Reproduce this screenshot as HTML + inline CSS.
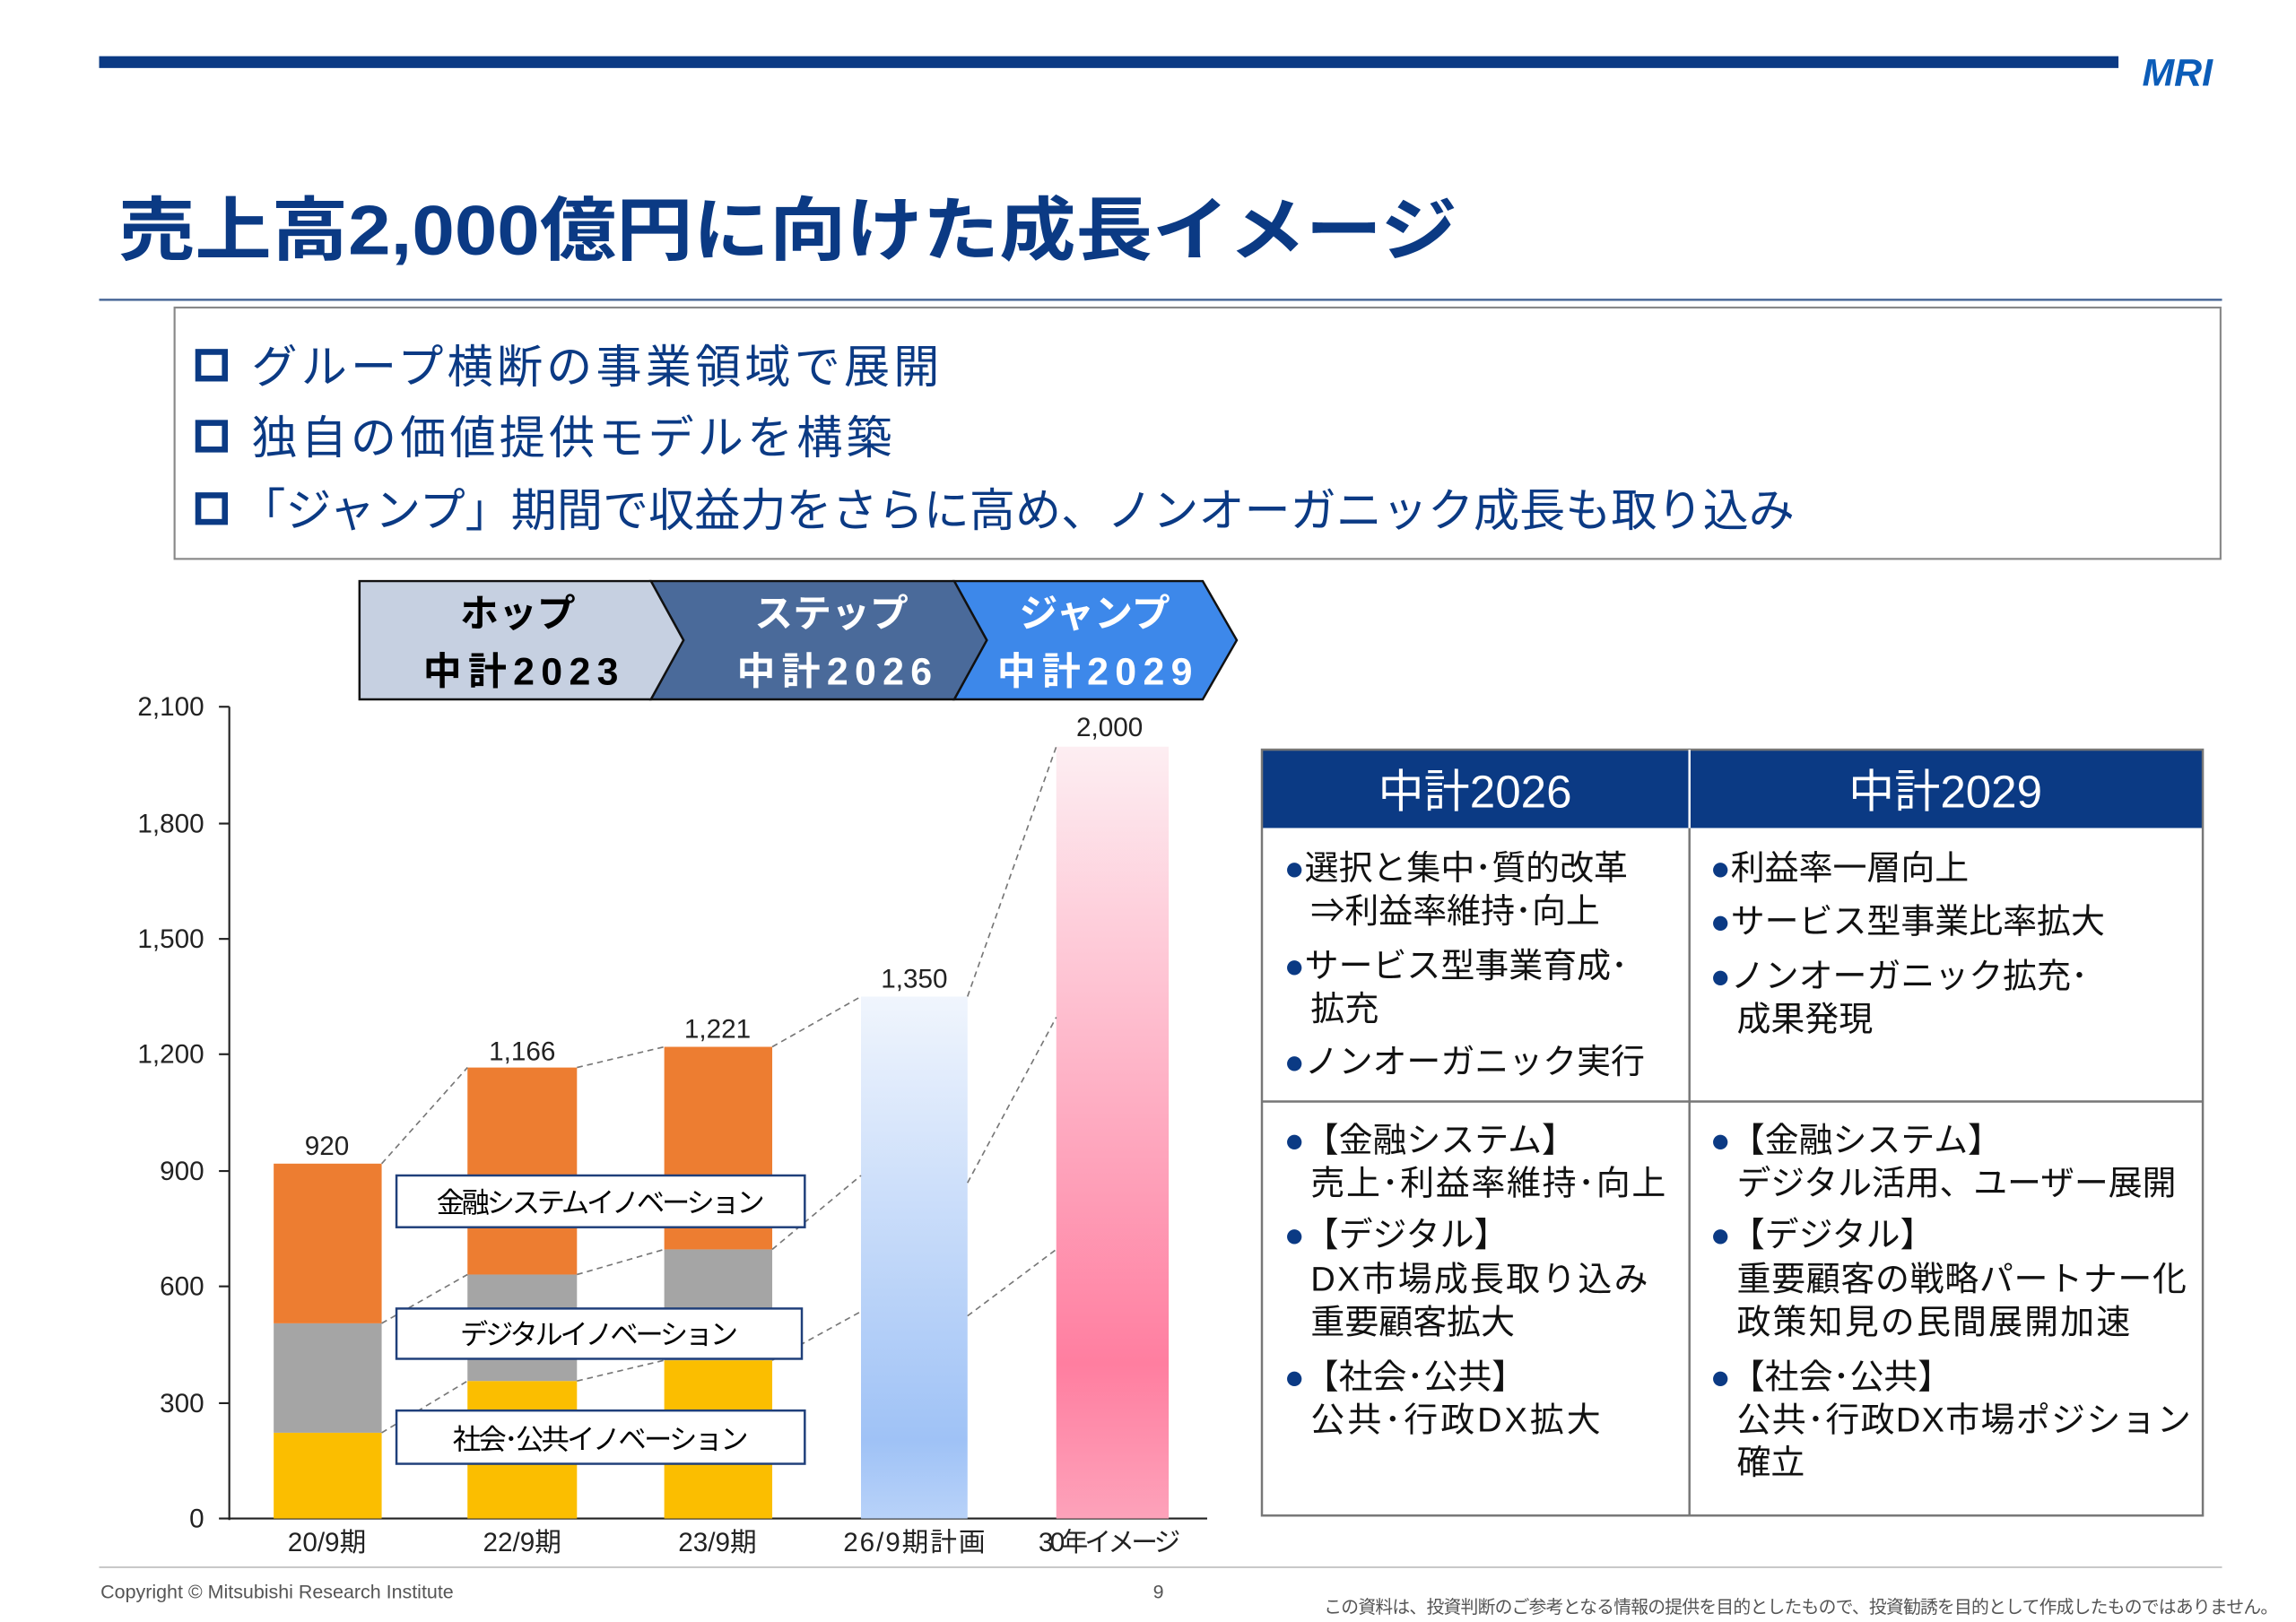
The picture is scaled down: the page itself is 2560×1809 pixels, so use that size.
<!DOCTYPE html>
<html><head><meta charset="utf-8"><style>html,body{margin:0;padding:0;background:#fff}svg{display:block}</style></head>
<body>
<svg xmlns="http://www.w3.org/2000/svg" width="2560" height="1809" viewBox="0 0 1552 1097" preserveAspectRatio="none" font-family="Liberation Sans, Noto Sans CJK JP, sans-serif">
<defs>
<linearGradient id="gb" x1="0" y1="0" x2="0" y2="1"><stop offset="0" stop-color="#f0f5fd"/><stop offset="0.85" stop-color="#9fc2f6"/><stop offset="1" stop-color="#b8d2f9"/></linearGradient>
<linearGradient id="gp" x1="0" y1="0" x2="0" y2="1"><stop offset="0" stop-color="#fdeef2"/><stop offset="0.8" stop-color="#ff7ea0"/><stop offset="1" stop-color="#fda2ba"/></linearGradient>
</defs>
<rect x="67" y="38" width="1365" height="8" fill="#0b3a84"/>
<text x="1448" y="58" font-size="26" font-weight="bold" font-style="italic" fill="#0b5cb8">MRI</text>
<text x="80" y="172" font-size="47" fill="#0b3a84" font-weight="bold" textLength="905" lengthAdjust="spacingAndGlyphs">売上高2,000億円に向けた成長イメージ</text>
<rect x="67" y="202" width="1435" height="1.5" fill="#4a6898"/>
<rect x="118" y="208" width="1383" height="170" fill="none" stroke="#888" stroke-width="1.3"/>
<g font-size="31" fill="#0b3a84">
<rect x="134" y="238" width="18" height="18" fill="none" stroke="#0b3a84" stroke-width="4"/>
<text x="170" y="259" textLength="465">グループ横断の事業領域で展開</text>
<rect x="134" y="286" width="18" height="18" fill="none" stroke="#0b3a84" stroke-width="4"/>
<text x="170" y="307" textLength="433">独自の価値提供モデルを構築</text>
<rect x="134" y="335" width="18" height="18" fill="none" stroke="#0b3a84" stroke-width="4"/>
<text x="162" y="356" textLength="1051">「ジャンプ」期間で収益力をさらに高め、ノンオーガニック成長も取り込み</text>
</g>
<polygon points="645,393 813,393 836,433 813,473 645,473 667,433" fill="#3d88ea" stroke="#111" stroke-width="1.5"/>
<polygon points="440,393 645,393 667,433 645,473 440,473 462,433" fill="#4a6a9a" stroke="#111" stroke-width="1.5"/>
<polygon points="243,393 440,393 462,433 440,473 243,473" fill="#c6d0e1" stroke="#111" stroke-width="1.5"/>
<g font-size="26" font-weight="bold" text-anchor="middle">
<text x="350" y="424" fill="#000">ホップ</text><text x="352" y="463" fill="#000" textLength="132">中計2023</text>
<text x="562" y="424" fill="#fff">ステップ</text><text x="564" y="463" fill="#fff" textLength="132">中計2026</text>
<text x="740" y="424" fill="#fff">ジャンプ</text><text x="740" y="463" fill="#fff" textLength="132">中計2029</text>
</g>
<g stroke="#222" stroke-width="1.3">
<line x1="155" y1="478" x2="155" y2="1028"/><line x1="148" y1="1027" x2="816" y2="1027"/>
<line x1="148" y1="478" x2="155" y2="478"/><line x1="148" y1="557" x2="155" y2="557"/><line x1="148" y1="635" x2="155" y2="635"/><line x1="148" y1="713" x2="155" y2="713"/><line x1="148" y1="792" x2="155" y2="792"/><line x1="148" y1="870" x2="155" y2="870"/><line x1="148" y1="949" x2="155" y2="949"/>
</g>
<g font-size="18" fill="#222" text-anchor="end">
<text x="138" y="484">2,100</text><text x="138" y="563">1,800</text><text x="138" y="641">1,500</text><text x="138" y="719">1,200</text><text x="138" y="798">900</text><text x="138" y="876">600</text><text x="138" y="955">300</text><text x="138" y="1033">0</text>
</g>
<rect x="185" y="969" width="73" height="58" fill="#fbbe00"/><rect x="185" y="895" width="73" height="74" fill="#a5a5a5"/><rect x="185" y="787" width="73" height="108" fill="#ed7d31"/>
<rect x="316" y="934" width="74" height="93" fill="#fbbe00"/><rect x="316" y="862" width="74" height="72" fill="#a5a5a5"/><rect x="316" y="722" width="74" height="140" fill="#ed7d31"/>
<rect x="449" y="920" width="73" height="107" fill="#fbbe00"/><rect x="449" y="845" width="73" height="75" fill="#a5a5a5"/><rect x="449" y="708" width="73" height="137" fill="#ed7d31"/>
<rect x="582" y="674" width="72" height="353" fill="url(#gb)"/>
<rect x="714" y="505" width="76" height="522" fill="url(#gp)"/>
<g stroke="#777" stroke-width="1" stroke-dasharray="4,3" fill="none">
<line x1="258" y1="787" x2="316" y2="722"/><line x1="390" y1="722" x2="449" y2="708"/><line x1="522" y1="708" x2="582" y2="674"/><line x1="654" y1="674" x2="714" y2="505"/>
<line x1="258" y1="895" x2="316" y2="862"/><line x1="390" y1="862" x2="449" y2="845"/><line x1="522" y1="845" x2="582" y2="795"/><line x1="654" y1="800" x2="714" y2="688"/>
<line x1="258" y1="969" x2="316" y2="934"/><line x1="390" y1="934" x2="449" y2="920"/><line x1="522" y1="920" x2="582" y2="887"/><line x1="654" y1="890" x2="714" y2="845"/>
</g>
<g font-size="18" fill="#222" text-anchor="middle">
<text x="221" y="781">920</text><text x="353" y="717">1,166</text><text x="485" y="702">1,221</text><text x="618" y="668">1,350</text><text x="750" y="498">2,000</text>
<text x="221" y="1049">20/9期</text><text x="353" y="1049">22/9期</text><text x="485" y="1049">23/9期</text><text x="618" y="1049" textLength="96">26/9期計画</text><text x="750" y="1049" textLength="96">30年イメージ</text>
</g>
<g fill="#fff" stroke="#1f3f7a" stroke-width="1.5">
<rect x="268" y="795" width="276" height="35"/><rect x="268" y="885" width="274" height="34"/><rect x="268" y="954" width="276" height="36"/>
</g>
<g font-size="19" fill="#000" text-anchor="middle">
<text x="406" y="820" textLength="222">金融システムイノベーション</text><text x="405" y="909" textLength="188">デジタルイノベーション</text><text x="406" y="980" textLength="200">社会･公共イノベーション</text>
</g>
<rect x="853" y="507" width="636" height="53" fill="#0b3a84"/>
<rect x="853" y="507" width="636" height="518" fill="none" stroke="#777" stroke-width="1.5"/>
<line x1="1142" y1="507" x2="1142" y2="1025" stroke="#777" stroke-width="1.5"/>
<line x1="1142" y1="507" x2="1142" y2="560" stroke="#fff" stroke-width="1.5"/>
<line x1="853" y1="745" x2="1489" y2="745" stroke="#777" stroke-width="1.5"/>
<g font-size="31" fill="#fff" text-anchor="middle"><text x="997" y="546">中計2026</text><text x="1315" y="546">中計2029</text></g>
<g font-size="23" fill="#111">
<text x="868" y="595"><tspan fill="#0b3a84">●</tspan>選択と集中･質的改革</text>
<text x="886" y="624">⇒利益率維持･向上</text>
<text x="868" y="661"><tspan fill="#0b3a84">●</tspan>サービス型事業育成･</text>
<text x="886" y="690">拡充</text>
<text x="868" y="726"><tspan fill="#0b3a84">●</tspan>ノンオーガニック実行</text>
<text x="868" y="779"><tspan fill="#0b3a84">●</tspan>【金融システム】</text>
<text x="886" y="808" textLength="240">売上･利益率維持･向上</text>
<text x="868" y="843"><tspan fill="#0b3a84">●</tspan>【デジタル】</text>
<text x="886" y="873" textLength="228">DX市場成長取り込み</text>
<text x="886" y="902">重要顧客拡大</text>
<text x="868" y="939"><tspan fill="#0b3a84">●</tspan>【社会･公共】</text>
<text x="886" y="968" textLength="196">公共･行政DX拡大</text>
<text x="1156" y="595"><tspan fill="#0b3a84">●</tspan>利益率一層向上</text>
<text x="1156" y="631"><tspan fill="#0b3a84">●</tspan>サービス型事業比率拡大</text>
<text x="1156" y="668"><tspan fill="#0b3a84">●</tspan>ノンオーガニック拡充･</text>
<text x="1174" y="697">成果発現</text>
<text x="1156" y="779"><tspan fill="#0b3a84">●</tspan>【金融システム】</text>
<text x="1174" y="808" textLength="297">デジタル活用、ユーザー展開</text>
<text x="1156" y="843"><tspan fill="#0b3a84">●</tspan>【デジタル】</text>
<text x="1174" y="873" textLength="304">重要顧客の戦略パートナー化</text>
<text x="1174" y="902" textLength="266">政策知見の民間展開加速</text>
<text x="1156" y="939"><tspan fill="#0b3a84">●</tspan>【社会･公共】</text>
<text x="1174" y="968" textLength="307">公共･行政DX市場ポジション</text>
<text x="1174" y="997">確立</text>
</g>
<line x1="67" y1="1060" x2="1502" y2="1060" stroke="#bbb" stroke-width="1"/>
<text x="68" y="1081" font-size="13" fill="#555">Copyright © Mitsubishi Research Institute</text>
<text x="783" y="1081" font-size="13" fill="#555" text-anchor="middle">9</text>
<text x="1540" y="1091" font-size="12" fill="#555" text-anchor="end" textLength="645">この資料は、投資判断のご参考となる情報の提供を目的としたもので、投資勧誘を目的として作成したものではありません。</text>
</svg>
</body></html>
